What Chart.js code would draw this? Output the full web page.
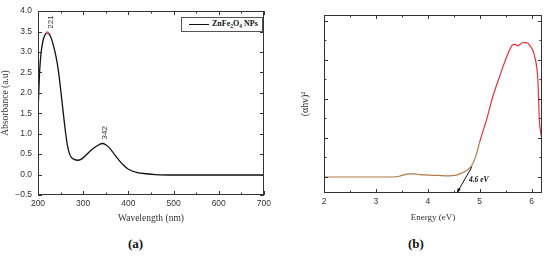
<!DOCTYPE html>
<html>
<head>
<meta charset="utf-8">
<script src="https://cdn.jsdelivr.net/npm/chart.js@4.4.1/dist/chart.umd.min.js"></script>
<style>
	body { margin: 0; background: #fff; }
	#wrap { position: relative; width: 550px; height: 257px; overflow: hidden; }
	canvas { position: absolute; top: 0; }
	.tag { position: absolute; top: 236px; font: bold 13px "Liberation Serif", serif; color: #111; }
	#legend { position: absolute; left: 181px; top: 17px; width: 80px; height: 13px; border: 1px solid #555; background: #fff; }
	#legend .ln { position: absolute; left: 7px; top: 6px; width: 20px; border-top: 1.3px solid #111; }
	#legend .tx { position: absolute; left: 30px; top: 1px; font: bold 8px "Liberation Serif", serif; color: #111; white-space: nowrap; }
	#legend sub { font-size: 5.5px; vertical-align: -1.5px; }
</style>
</head>
<body>
<div id="wrap">
	<canvas id="chartA" width="275" height="225" style="left:0px"></canvas>
	<canvas id="chartB" width="270" height="225" style="left:280px"></canvas>
	<div id="legend"><span class="ln"></span><span class="tx">ZnFe<sub>2</sub>O<sub>4</sub> NPs</span></div>
	<div class="tag" style="left:128px">(a)</div>
	<div class="tag" style="left:408px">(b)</div>
</div>
<script>

// (a) UV-vis absorbance
const wavelength = [200, 202, 204, 207, 211, 215, 221, 228, 235, 240, 245, 250, 255, 260, 265, 270, 275, 280, 288, 295, 305, 315, 325, 335, 342, 350, 360, 370, 380, 390, 400, 420, 440, 460, 500, 600, 700];
const absorbance = [1.52, 2.1, 2.6, 3.0, 3.27, 3.41, 3.47, 3.37, 3.12, 2.88, 2.55, 2.1, 1.6, 1.12, 0.72, 0.5, 0.41, 0.37, 0.35, 0.37, 0.46, 0.57, 0.66, 0.73, 0.76, 0.73, 0.63, 0.48, 0.34, 0.22, 0.13, 0.05, 0.02, 0.0, -0.01, -0.01, -0.01];
const peaksA = [221, 342];
const xTicksA = [200, 250, 300, 350, 400, 450, 500, 550, 600, 650, 700];
const yTicksA = [-0.5, 0, 0.5, 1, 1.5, 2, 2.5, 3, 3.5, 4];

// (b) Tauc plot
const energy = [2.0, 2.5, 3.0, 3.3, 3.45, 3.55, 3.65, 3.75, 3.85, 4.0, 4.2, 4.4, 4.55, 4.65, 4.75, 4.85, 4.94, 5.0, 5.13, 5.25, 5.38, 5.52, 5.63, 5.68, 5.73, 5.83, 5.9, 5.96, 6.06, 6.12, 6.15, 6.2];
const ahv2 = [0, 0, 0, 0, 0.02, 0.06, 0.08, 0.08, 0.06, 0.05, 0.04, 0.03, 0.05, 0.1, 0.17, 0.3, 0.6, 0.9, 1.46, 2.05, 2.56, 3.08, 3.38, 3.4, 3.36, 3.44, 3.44, 3.38, 3.08, 2.49, 1.46, 0.95];
const tangentE = [4.85, 4.56];
const tangentY = [0.26, -0.41];
const gapLabel = "4.6 eV";
const xTicksB = [2, 2.5, 3, 3.5, 4, 4.5, 5, 5.5, 6];
const yTicksB = [0, 0.5, 1, 1.5, 2, 2.5, 3, 3.5, 4];

const SANS = "'Liberation Sans', Arial, sans-serif";
const SERIF = "'Liberation Serif', 'Times New Roman', serif";

// box around the plot with inward ticks on all four sides
function frameTicks(xMajor, yMajor) {
	return {
		id: 'frameTicks',
		afterDatasetsDraw(chart) {
			const ctx = chart.ctx;
			const a = chart.chartArea;
			const x = chart.scales.x, y = chart.scales.y;
			ctx.save();
			ctx.strokeStyle = '#333';
			ctx.lineWidth = 1;
			ctx.strokeRect(Math.round(a.left) + 0.5, Math.round(a.top) + 0.5, Math.round(a.right - a.left) - 1, Math.round(a.bottom - a.top) - 1);
			ctx.beginPath();
			x.ticks.forEach(t => {
				const px = Math.round(x.getPixelForValue(t.value)) + 0.5;
				const len = xMajor(t.value) ? 4 : 2.5;
				ctx.moveTo(px, a.bottom); ctx.lineTo(px, a.bottom - len);
				ctx.moveTo(px, a.top); ctx.lineTo(px, a.top + len);
			});
			y.ticks.forEach(t => {
				const py = Math.round(y.getPixelForValue(t.value)) + 0.5;
				const len = yMajor(t.value) ? 4 : 2.5;
				ctx.moveTo(a.left, py); ctx.lineTo(a.left + len, py);
				ctx.moveTo(a.right, py); ctx.lineTo(a.right - len, py);
			});
			ctx.stroke();
			ctx.restore();
		}
	};
}

const peakLabels = {
	id: 'peakLabels',
	afterDatasetsDraw(chart) {
		const ctx = chart.ctx;
		const x = chart.scales.x, y = chart.scales.y;
		ctx.save();
		ctx.fillStyle = '#333';
		ctx.font = '8px ' + SANS;
		ctx.textAlign = 'left';
		ctx.textBaseline = 'middle';
		peaksA.forEach(p => {
			const i = wavelength.indexOf(p);
			const px = x.getPixelForValue(p);
			const py = y.getPixelForValue(absorbance[i]);
			ctx.save();
			ctx.translate(px + 3, py - 4);
			ctx.rotate(-Math.PI / 2);
			ctx.fillText(String(p), 0, 0);
			ctx.restore();
		});
		ctx.restore();
	}
};

const gapArrow = {
	id: 'gapArrow',
	afterDatasetsDraw(chart) {
		const ctx = chart.ctx;
		const pts = chart.getDatasetMeta(1).data;
		const p0 = pts[0], p1 = pts[1];
		const ang = Math.atan2(p1.y - p0.y, p1.x - p0.x);
		ctx.save();
		ctx.fillStyle = '#111';
		ctx.beginPath();
		ctx.moveTo(p1.x, p1.y);
		ctx.lineTo(p1.x - 5 * Math.cos(ang - 0.35), p1.y - 5 * Math.sin(ang - 0.35));
		ctx.lineTo(p1.x - 5 * Math.cos(ang + 0.35), p1.y - 5 * Math.sin(ang + 0.35));
		ctx.closePath();
		ctx.fill();
		ctx.font = 'italic bold 7.5px ' + SERIF;
		ctx.textBaseline = 'middle';
		ctx.fillText(gapLabel, p0.x - 3, p0.y + 13);
		ctx.restore();
	}
};

new Chart("chartA", {
	type: "line",
	data: {
		datasets: [{
			label: "ZnFe2O4 NPs",
			data: wavelength.map((w, i) => ({ x: w, y: absorbance[i] })),
			borderColor: "#111",
			borderWidth: 1.3,
			cubicInterpolationMode: 'monotone',
			pointRadius: ctx => ctx.dataIndex === wavelength.indexOf(221) ? 1.6 : 0,
			pointBackgroundColor: "#e0506a",
			pointBorderWidth: 0
		}]
	},
	options: {
		responsive: false,
		animation: false,
		layout: { padding: { top: 10, right: 10, left: 0, bottom: 0 } },
		plugins: { legend: { display: false }, tooltip: { enabled: false } },
		scales: {
			x: {
				type: 'linear', min: 200, max: 700,
				afterBuildTicks: s => { s.ticks = xTicksA.map(v => ({ value: v })); },
				afterFit: s => { s.height = 30; },
				grid: { display: false, drawTicks: false },
				border: { display: false },
				ticks: { autoSkip: false, maxRotation: 0, padding: 4, color: '#333', font: { family: SANS, size: 8.5 },
					callback: v => v % 100 === 0 ? v : '' },
				title: { display: true, text: 'Wavelength (nm)', color: '#333', font: { family: SERIF, size: 9.5 }, padding: { top: 0, bottom: 1 } }
			},
			y: {
				min: -0.5, max: 4,
				afterBuildTicks: s => { s.ticks = yTicksA.map(v => ({ value: v })); },
				afterFit: s => { s.width = 38; },
				grid: { display: false, drawTicks: false },
				border: { display: false },
				ticks: { padding: 6, color: '#333', font: { family: SANS, size: 8.5 },
					callback: v => (v < 0 ? '\u2212' : '') + Math.abs(v).toFixed(1) },
				title: { display: true, text: 'Absorbance (a.u)', color: '#333', font: { family: SERIF, size: 9.5 }, padding: { top: 0, bottom: 0 } }
			}
		}
	},
	plugins: [frameTicks(v => v % 100 === 0, v => true), peakLabels]
});

new Chart("chartB", {
	type: "line",
	data: {
		datasets: [{
			label: "Tauc",
			data: energy.map((e, i) => ({ x: e, y: ahv2[i] })),
			borderWidth: 1.2,
			cubicInterpolationMode: 'monotone',
			pointRadius: 0,
			borderColor: "#b07a4a",
			segment: { borderColor: c => c.p0.parsed.x >= 4.98 ? "#f0303c" : "#b07a4a" }
		}, {
			label: "tangent",
			data: tangentE.map((e, i) => ({ x: e, y: tangentY[i] })),
			borderColor: "#111",
			borderWidth: 1,
			pointRadius: 0,
			clip: false
		}]
	},
	options: {
		responsive: false,
		animation: false,
		layout: { padding: { top: 15, right: 8, left: 0, bottom: 0 } },
		plugins: { legend: { display: false }, tooltip: { enabled: false } },
		scales: {
			x: {
				type: 'linear', min: 2, max: 6.2,
				afterBuildTicks: s => { s.ticks = xTicksB.map(v => ({ value: v })); },
				afterFit: s => { s.height = 32; },
				grid: { display: false, drawTicks: false },
				border: { display: false },
				ticks: { autoSkip: false, maxRotation: 0, padding: 4, color: '#333', font: { family: SANS, size: 8.5 },
					callback: v => Number.isInteger(v) ? v : '' },
				title: { display: true, text: 'Energy (eV)', color: '#333', font: { family: SERIF, size: 9 }, padding: { top: 0, bottom: 2 } }
			},
			y: {
				min: -0.41, max: 4.15,
				afterBuildTicks: s => { s.ticks = yTicksB.map(v => ({ value: v })); },
				afterFit: s => { s.width = 44; },
				grid: { display: false, drawTicks: false },
				border: { display: false },
				ticks: { display: false },
				title: { display: true, text: '(\u03B1h\u03BD)\u00B2', color: '#333', font: { family: SERIF, size: 10 }, padding: { top: 19, bottom: 0 } }
			}
		}
	},
	plugins: [frameTicks(v => Number.isInteger(v), v => Number.isInteger(v)), gapArrow]
});

</script>
</body>
</html>
